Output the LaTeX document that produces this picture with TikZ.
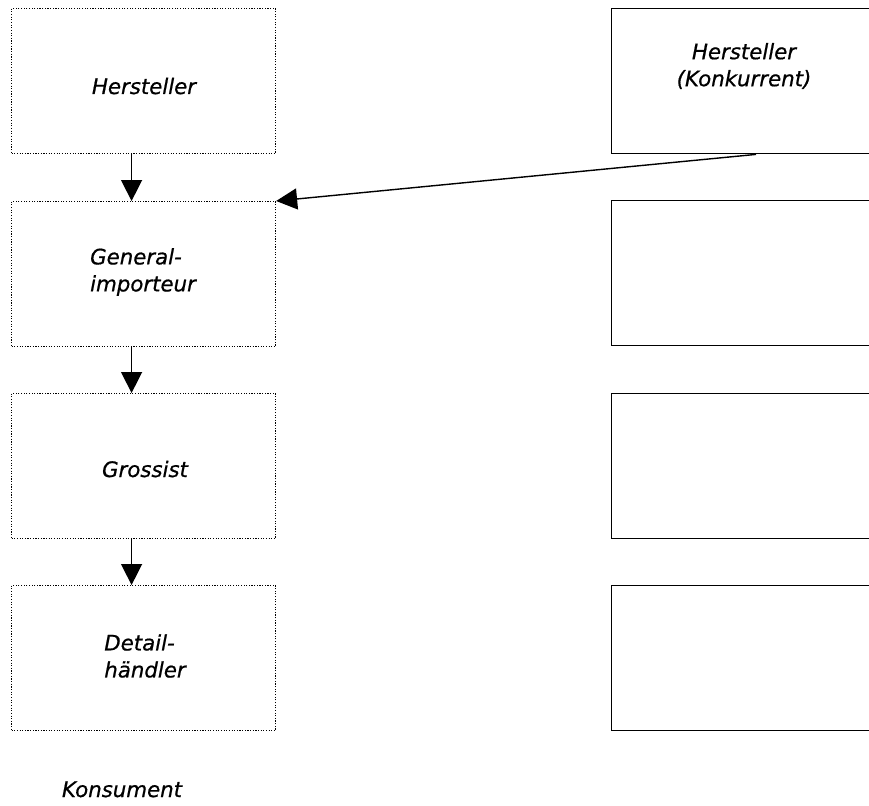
\documentclass[tikz,border=0pt]{standalone}
\usepackage{fontspec}
\setmainfont{DejaVu Sans}
\usetikzlibrary{arrows.meta}

\newcommand{\lblface}{\itshape\addfontfeatures{FakeBold=0.7}\fontsize{21.3}{27}\selectfont}

\tikzset{
  chainbox/.style={draw, line width=1.15pt, dash pattern=on 1.15pt off 1.5pt,
    minimum width=264pt, minimum height=145pt, inner sep=0pt, anchor=north west},
  rivalbox/.style={draw, line width=1.4pt,
    minimum width=280pt, minimum height=145pt, inner sep=0pt, anchor=north west},
  lbl/.style={font=\lblface, inner sep=0pt, align=left},
  clbl/.style={font=\lblface, inner sep=0pt, align=center},
  flow/.style={-{Triangle[width=21pt,length=21pt]}, line width=1.4pt}
}

\begin{document}
\begin{tikzpicture}[x=1pt,y=-1pt]
\useasboundingbox (0,0) rectangle (869,805);

% distribution chain (left column)
\node[chainbox] (g1) at (11,8) {};
\node[chainbox] (g2) at (11,201) {};
\node[chainbox] (g3) at (11,393) {};
\node[chainbox] (g4) at (11,585) {};

% competitor column (runs off the right edge)
\begin{scope}
  \clip (0,0) rectangle (869,805);
  \node[rivalbox] (k1) at (611,8) {};
  \node[rivalbox] (k2) at (611,200) {};
  \node[rivalbox] (k3) at (611,393) {};
  \node[rivalbox] (k4) at (611,585) {};
\end{scope}

% labels
\node[lbl, anchor=base] (t1) at (144,94) {Hersteller};
\node[lbl, anchor=center] (t2) at (143,272) {General-\\importeur};
\node[lbl, anchor=base] (t3) at (145,477) {Grossist};
\node[lbl, anchor=center] (t4) at (145,656) {Detail-\\händler};
\node[clbl, anchor=center] (tk) at (744,66) {Hersteller\\(Konkurrent)};
\node[lbl, anchor=base] (t5) at (122,797) {Konsument};

% connectors
\draw[flow] ([xshift=-12pt]g1.south) -- ([xshift=-12pt]g2.north);
\draw[flow] ([xshift=-12pt]g2.south) -- ([xshift=-12pt]g3.north);
\draw[flow] ([xshift=-12pt]g3.south) -- ([xshift=-12pt]g4.north);
\coordinate (kout) at ([xshift=145pt]k1.south west);
\draw[flow] (kout) -- (g2.north east);
\end{tikzpicture}
\end{document}
